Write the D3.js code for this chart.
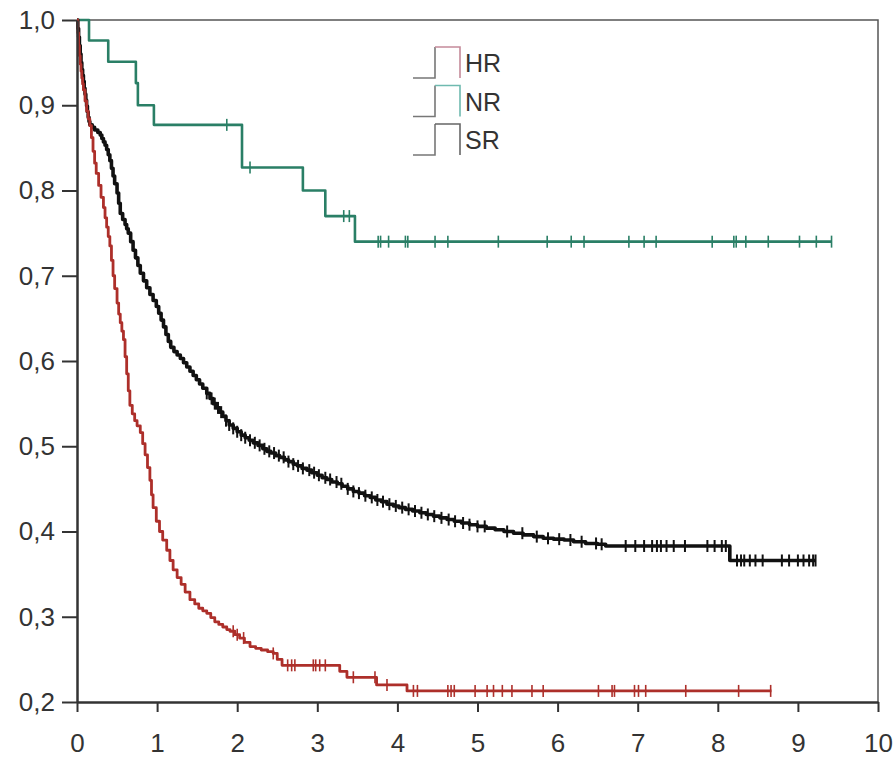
<!DOCTYPE html>
<html>
<head>
<meta charset="utf-8">
<script src="https://cdnjs.cloudflare.com/ajax/libs/d3/7.8.5/d3.min.js"></script>
<style>
  body { margin: 0; background: #fff; }
  svg text { font-family: "Liberation Sans Narrow", "Liberation Sans", Arial, sans-serif; fill: #333; }
</style>
</head>
<body>
<svg id="canvas"></svg>
<script>
// Kaplan-Meier curves, values
// each pair: [time, survival after the drop]
const hrSteps = [
  [0, 1.0], [0.01, 0.985], [0.02, 0.97], [0.03, 0.958], [0.04, 0.948], [0.05, 0.94],
  [0.06, 0.932], [0.07, 0.925], [0.08, 0.918], [0.10, 0.905], [0.12, 0.893], [0.14, 0.884],
  [0.16, 0.876], [0.18, 0.862], [0.20, 0.846], [0.22, 0.832], [0.24, 0.82], [0.27, 0.806],
  [0.30, 0.792], [0.33, 0.78], [0.35, 0.768], [0.37, 0.757], [0.39, 0.746], [0.41, 0.735],
  [0.43, 0.718], [0.45, 0.70], [0.47, 0.685], [0.50, 0.668], [0.52, 0.655], [0.54, 0.645],
  [0.56, 0.635], [0.58, 0.625], [0.60, 0.605], [0.62, 0.585], [0.64, 0.565], [0.66, 0.548],
  [0.69, 0.538], [0.72, 0.530], [0.75, 0.524], [0.79, 0.516], [0.82, 0.503], [0.85, 0.49],
  [0.88, 0.475], [0.91, 0.46], [0.93, 0.443], [0.95, 0.428], [0.99, 0.412], [1.03, 0.40],
  [1.07, 0.39], [1.12, 0.378], [1.16, 0.366], [1.20, 0.355], [1.25, 0.346], [1.30, 0.338],
  [1.35, 0.329], [1.41, 0.32], [1.47, 0.315], [1.52, 0.31], [1.57, 0.307], [1.62, 0.304],
  [1.67, 0.299], [1.72, 0.294], [1.77, 0.291], [1.82, 0.288], [1.87, 0.285], [1.91, 0.283],
  [1.97, 0.279], [2.03, 0.275], [2.09, 0.27], [2.16, 0.265], [2.23, 0.263], [2.30, 0.261],
  [2.38, 0.259], [2.45, 0.257], [2.50, 0.25], [2.56, 0.243], [3.28, 0.236], [3.37, 0.229],
  [3.74, 0.220], [4.12, 0.213]
];
const hrEnd = 8.67;
const hrCensor = [1.95, 2.0, 2.08, 2.45, 2.63, 2.68, 2.72, 2.95, 2.98, 3.03, 3.10, 3.45, 3.72,
  3.87, 4.20, 4.25, 4.63, 4.67, 4.71, 4.97, 5.12, 5.20, 5.31, 5.43, 5.68, 5.82, 6.51, 6.68,
  6.71, 6.96, 7.01, 7.10, 7.60, 8.26, 8.66];

const nrSteps = [
  [0, 1.0], [0.15, 0.976], [0.39, 0.951], [0.735, 0.926], [0.76, 0.90], [0.96, 0.877],
  [2.06, 0.827], [2.82, 0.80], [3.10, 0.77], [3.47, 0.74]
];
const nrEnd = 9.42;
const nrCensor = [1.87, 2.16, 3.33, 3.40, 3.76, 3.79, 3.89, 4.10, 4.13, 4.47, 4.63, 5.26, 5.87,
  6.17, 6.33, 6.89, 7.08, 7.23, 7.93, 8.20, 8.23, 8.35, 8.63, 9.02, 9.23, 9.42];

const srSteps = [
  [0, 1.0], [0.01, 0.99], [0.02, 0.98], [0.03, 0.97], [0.04, 0.96], [0.05, 0.95], [0.06, 0.942],
  [0.07, 0.935], [0.08, 0.928], [0.09, 0.92], [0.10, 0.913], [0.11, 0.906], [0.12, 0.899],
  [0.13, 0.892], [0.14, 0.886], [0.15, 0.881], [0.16, 0.877], [0.19, 0.874], [0.22, 0.871],
  [0.26, 0.868], [0.29, 0.865], [0.31, 0.861], [0.33, 0.857], [0.35, 0.853], [0.37, 0.848],
  [0.39, 0.842], [0.41, 0.835], [0.43, 0.826], [0.45, 0.817], [0.47, 0.808], [0.50, 0.797],
  [0.52, 0.785], [0.54, 0.773], [0.57, 0.766], [0.60, 0.76], [0.62, 0.755], [0.64, 0.75],
  [0.67, 0.74], [0.70, 0.73], [0.73, 0.721], [0.76, 0.712], [0.79, 0.703], [0.83, 0.694],
  [0.87, 0.686], [0.91, 0.678], [0.95, 0.671], [0.99, 0.664], [1.02, 0.656], [1.05, 0.648],
  [1.08, 0.64], [1.11, 0.631], [1.14, 0.623], [1.17, 0.616], [1.21, 0.611], [1.25, 0.607],
  [1.29, 0.603], [1.33, 0.598], [1.37, 0.593], [1.41, 0.588], [1.45, 0.583], [1.49, 0.578],
  [1.53, 0.573], [1.57, 0.568], [1.62, 0.562], [1.66, 0.556], [1.70, 0.55], [1.74, 0.545],
  [1.78, 0.54], [1.82, 0.535], [1.86, 0.53], [1.90, 0.525], [1.95, 0.521], [2.00, 0.517],
  [2.05, 0.513], [2.10, 0.51], [2.15, 0.507], [2.20, 0.504], [2.26, 0.501], [2.32, 0.497],
  [2.37, 0.494], [2.42, 0.492], [2.48, 0.489], [2.53, 0.487], [2.59, 0.484], [2.64, 0.482],
  [2.70, 0.479], [2.75, 0.477], [2.81, 0.474], [2.87, 0.472], [2.93, 0.469], [3.00, 0.466],
  [3.06, 0.463], [3.12, 0.461], [3.18, 0.458], [3.25, 0.456], [3.31, 0.453], [3.38, 0.45],
  [3.45, 0.447], [3.52, 0.445], [3.59, 0.442], [3.66, 0.44], [3.73, 0.437], [3.80, 0.435],
  [3.87, 0.432], [3.95, 0.43], [4.02, 0.428], [4.10, 0.426], [4.19, 0.424], [4.28, 0.422],
  [4.36, 0.42], [4.45, 0.418], [4.53, 0.416], [4.62, 0.414], [4.71, 0.412], [4.80, 0.41],
  [4.90, 0.408], [5.00, 0.406], [5.11, 0.404], [5.22, 0.402], [5.33, 0.40], [5.45, 0.398],
  [5.57, 0.396], [5.70, 0.394], [5.82, 0.392], [5.95, 0.391], [6.08, 0.39], [6.20, 0.388],
  [6.35, 0.386], [6.50, 0.385], [6.60, 0.383], [8.15, 0.366]
];
const srEnd = 9.22;
const srCensor = [1.62, 1.68, 1.72, 1.76, 1.80, 1.86, 1.90, 1.95, 2.00, 2.05, 2.10, 2.16, 2.22,
  2.28, 2.34, 2.40, 2.46, 2.52, 2.58, 2.64, 2.70, 2.76, 2.82, 2.90, 2.96, 3.02, 3.10, 3.16,
  3.24, 3.30, 3.38, 3.45, 3.52, 3.60, 3.68, 3.75, 3.82, 3.90, 3.98, 4.06, 4.14, 4.22, 4.30,
  4.38, 4.46, 4.55, 4.64, 4.72, 4.82, 4.90, 5.00, 5.09, 5.37, 5.56, 5.74, 5.88, 6.02, 6.16,
  6.30, 6.48, 6.55, 6.85, 6.97, 7.08, 7.18, 7.24, 7.29, 7.36, 7.45, 7.59, 7.87, 7.96, 8.05,
  8.10, 8.24, 8.29, 8.33, 8.40, 8.47, 8.56, 8.80, 8.89, 9.00, 9.07, 9.14, 9.19, 9.22];

const xTicks = [0, 1, 2, 3, 4, 5, 6, 7, 8, 9, 10];
const yTicks = [0.2, 0.3, 0.4, 0.5, 0.6, 0.7, 0.8, 0.9, 1.0];
const legendNames = ['HR', 'NR', 'SR'];

const w = 896;
const h = 762;
const padL = 77, padR = 878, padT = 20, padB = 702;

const svg = d3.select('#canvas').attr('width', w).attr('height', h);

const xScale = d3.scaleLinear().domain([0, 10]).range([padL, padR]);
const yScale = d3.scaleLinear().domain([0.2, 1.0]).range([padB, padT]);

// frame (top + right)
svg.append('path')
  .attr('d', `M${padL},${padT}H${padR}V${padB}`)
  .attr('fill', 'none')
  .attr('stroke', '#555')
  .attr('stroke-width', 1.5);

function survAt(steps, t) {
  let s = steps[0][1];
  for (let i = 0; i < steps.length; i++) {
    if (steps[i][0] <= t + 1e-9) s = steps[i][1];
  }
  return s;
}

const stepLine = d3.line()
  .x((d) => xScale(d[0]))
  .y((d) => yScale(d[1]))
  .curve(d3.curveStepAfter);

function drawCurve(steps, end, censor, color, width, markW) {
  const pts = steps.concat([[end, steps[steps.length - 1][1]]]);
  svg.append('path')
    .datum(pts)
    .attr('d', stepLine)
    .attr('fill', 'none')
    .attr('stroke', color)
    .attr('stroke-width', width)
    .attr('stroke-linejoin', 'round');
  svg.append('g')
    .selectAll('line')
    .data(censor)
    .enter()
    .append('line')
    .attr('x1', (d) => xScale(d))
    .attr('x2', (d) => xScale(d))
    .attr('y1', (d) => yScale(survAt(steps, d)) - 6)
    .attr('y2', (d) => yScale(survAt(steps, d)) + 6)
    .attr('stroke', color)
    .attr('stroke-width', markW);
}

drawCurve(nrSteps, nrEnd, nrCensor, '#2a7f66', 2.6, 1.6);
drawCurve(srSteps, srEnd, srCensor, '#111', 3.6, 2);
drawCurve(hrSteps, hrEnd, hrCensor, '#ad2f2a', 2.8, 1.6);

// axes
const xAxis = d3.axisBottom(xScale).tickValues(xTicks).tickSize(10).tickSizeOuter(0).tickPadding(22);
const yAxis = d3.axisLeft(yScale).tickValues(yTicks).tickSize(15).tickSizeOuter(0).tickPadding(7)
  .tickFormat((d) => d.toFixed(1).replace('.', ','));

const gx = svg.append('g').attr('transform', 'translate(0,' + padB + ')').attr('id', 'x-axis').call(xAxis);
const gy = svg.append('g').attr('transform', 'translate(' + padL + ',0)').attr('id', 'y-axis').call(yAxis);

[gx, gy].forEach((g) => {
  g.select('.domain').attr('stroke', '#333').attr('stroke-width', 2.5);
  g.selectAll('.tick line').attr('stroke', '#333').attr('stroke-width', 2);
  g.selectAll('.tick text').attr('font-size', 26).attr('fill', '#333')
    .style('font-family', '"Liberation Sans Narrow", "Liberation Sans", Arial, sans-serif');
});

// legend
const legendTint = ['#c58a9a', '#6fbab0', '#666'];
const legend = svg.append('g');
legendNames.forEach((name, i) => {
  const base = 78 + i * 38.5;
  const g = legend.append('g');
  g.append('path')
    .attr('d', `M413,${base}H435V${base - 31}`)
    .attr('fill', 'none').attr('stroke', '#777').attr('stroke-width', 1.6);
  g.append('path')
    .attr('d', `M435,${base - 31}H460V${base}`)
    .attr('fill', 'none').attr('stroke', legendTint[i]).attr('stroke-width', 1.6);
  g.append('text')
    .attr('x', 465)
    .attr('y', base - 6)
    .attr('font-size', 25)
    .text(name);
});
</script>
</body>
</html>
